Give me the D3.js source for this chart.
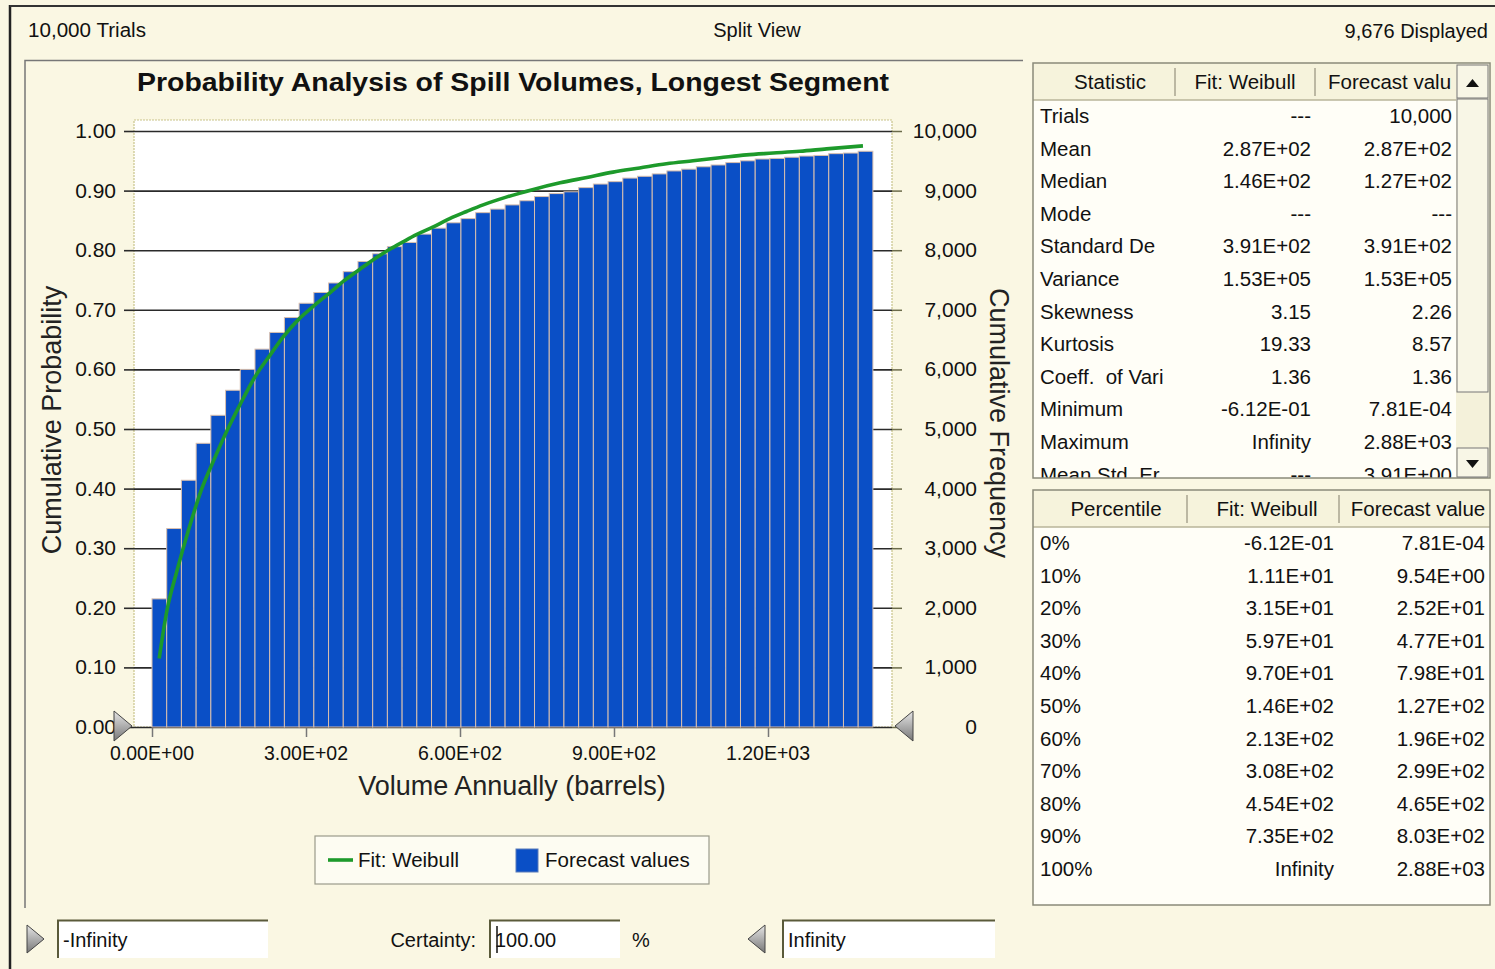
<!DOCTYPE html>
<html>
<head>
<meta charset="utf-8">
<script src="https://cdn.jsdelivr.net/npm/d3@7"></script>
<style>
  body { margin: 0; background: #faf7e3; }
  svg { display: block; font-family: "Liberation Sans", Arial, sans-serif; }
  .tick-label { font-size: 21px; fill: #111; }
  .x-label { font-size: 19.5px; fill: #111; }
  .axis-title { font-size: 27px; fill: #222; }
  .tbl { font-size: 20.5px; fill: #111; }
</style>
</head>
<body>
<div id="chart"></div>
<script>
// Cumulative frequency chart (Crystal Ball style split view)

// bins of the forecast histogram, width in barrels
const binWidth = 28.66;
// cumulative probability at the top of each bin (49 bins)
const cumProb = [
  0.215, 0.333, 0.414, 0.476, 0.523, 0.565, 0.600, 0.634, 0.662, 0.687,
  0.711, 0.729, 0.745, 0.764, 0.781, 0.794, 0.806, 0.813, 0.827, 0.837,
  0.846, 0.853, 0.863, 0.869, 0.876, 0.883, 0.890, 0.895, 0.898, 0.905,
  0.911, 0.915, 0.921, 0.924, 0.928, 0.933, 0.936, 0.940, 0.943, 0.947,
  0.950, 0.953, 0.954, 0.956, 0.958, 0.959, 0.962, 0.963, 0.966
];

// Weibull fit curve
const fitVolume = [14, 29, 48, 71, 97, 119, 146, 171, 201, 230, 256, 288, 317, 347, 373,
  405, 431, 464, 489, 515, 548, 580, 613, 645, 690, 743, 795, 847, 898, 950, 1002, 1054,
  1106, 1158, 1210, 1262, 1314, 1385];
const fitProb = [0.115, 0.195, 0.260, 0.330, 0.400, 0.445, 0.497, 0.540, 0.588, 0.624,
  0.655, 0.686, 0.708, 0.729, 0.748, 0.768, 0.784, 0.802, 0.814, 0.826, 0.839, 0.853,
  0.865, 0.876, 0.889, 0.902, 0.913, 0.922, 0.931, 0.938, 0.945, 0.950, 0.955, 0.960,
  0.963, 0.966, 0.970, 0.975];

const xTicks = [0, 300, 600, 900, 1200];
const probTicks = d3.range(0, 1.0001, 0.1);
const freqTicks = d3.range(0, 10001, 1000);

// statistics table
const statNames = ["Trials", "Mean", "Median", "Mode", "Standard De", "Variance", "Skewness",
  "Kurtosis", "Coeff.  of Vari", "Minimum", "Maximum", "Mean Std. Er"];
const statFit = ["---", "2.87E+02", "1.46E+02", "---", "3.91E+02", "1.53E+05", "3.15",
  "19.33", "1.36", "-6.12E-01", "Infinity", "---"];
const statForecast = ["10,000", "2.87E+02", "1.27E+02", "---", "3.91E+02", "1.53E+05", "2.26",
  "8.57", "1.36", "7.81E-04", "2.88E+03", "3.91E+00"];

// percentile table
const pctNames = ["0%", "10%", "20%", "30%", "40%", "50%", "60%", "70%", "80%", "90%", "100%"];
const pctFit = ["-6.12E-01", "1.11E+01", "3.15E+01", "5.97E+01", "9.70E+01", "1.46E+02",
  "2.13E+02", "3.08E+02", "4.54E+02", "7.35E+02", "Infinity"];
const pctForecast = ["7.81E-04", "9.54E+00", "2.52E+01", "4.77E+01", "7.98E+01", "1.27E+02",
  "1.96E+02", "2.99E+02", "4.65E+02", "8.03E+02", "2.88E+03"];

const width = 1495;
const height = 969;

const plot = { left: 134, right: 892, top: 120, bottom: 727 };

const svg = d3.select("#chart")
  .append("svg")
  .attr("width", width)
  .attr("height", height);

svg.append("rect")
  .attr("width", width)
  .attr("height", height)
  .attr("fill", "#faf7e3");

// window frame
svg.append("line").attr("x1", 10).attr("x2", 10).attr("y1", 5).attr("y2", height)
  .attr("stroke", "#222").attr("stroke-width", 2.5);
svg.append("line").attr("x1", 10).attr("x2", width).attr("y1", 6).attr("y2", 6)
  .attr("stroke", "#333").attr("stroke-width", 2);

// header texts
svg.append("text").attr("x", 28).attr("y", 37).attr("font-size", 20).attr("fill", "#111")
  .attr("textLength", 118).attr("lengthAdjust", "spacingAndGlyphs")
  .text("10,000 Trials");
svg.append("text").attr("x", 757).attr("y", 37).attr("font-size", 20).attr("fill", "#111")
  .attr("text-anchor", "middle")
  .text("Split View");
svg.append("text").attr("x", 1488).attr("y", 38).attr("font-size", 20).attr("fill", "#111")
  .attr("text-anchor", "end")
  .text("9,676 Displayed");

// chart panel border
svg.append("path")
  .attr("d", "M25,908 L25,60.5 L1023,60.5")
  .attr("fill", "none")
  .attr("stroke", "#777")
  .attr("stroke-width", 1.5);

// title
svg.append("text")
  .attr("x", 137).attr("y", 91)
  .attr("font-size", 26).attr("font-weight", "bold").attr("fill", "#111")
  .attr("textLength", 752).attr("lengthAdjust", "spacingAndGlyphs")
  .text("Probability Analysis of Spill Volumes, Longest Segment");

// scales
const xScale = d3.scaleLinear().domain([0, 1200]).range([152, 768]);
const yScale = d3.scaleLinear().domain([0, 1]).range([727, 131]);
const yFreq = d3.scaleLinear().domain([0, 10000]).range([727, 131]);

// plot background
svg.append("rect")
  .attr("x", plot.left).attr("y", plot.top)
  .attr("width", plot.right - plot.left).attr("height", plot.bottom - plot.top)
  .attr("fill", "#ffffff")
  .attr("stroke", "#c9c48a")
  .attr("stroke-width", 1.2)
  .attr("stroke-dasharray", "2,1");

// grid lines + left ticks
const leftAxis = d3.axisLeft(yScale)
  .tickValues(probTicks)
  .tickSize(-(plot.right - plot.left))
  .tickFormat("");
svg.append("g")
  .attr("transform", `translate(${plot.left},0)`)
  .call(leftAxis)
  .call(g => g.select(".domain").remove())
  .call(g => g.selectAll(".tick line").attr("stroke", "#2a2a2a").attr("stroke-width", 1.6));

svg.append("g")
  .attr("transform", `translate(${plot.left},0)`)
  .call(d3.axisLeft(yScale).tickValues(probTicks).tickSize(10).tickFormat(""))
  .call(g => g.select(".domain").remove())
  .call(g => g.selectAll(".tick line").attr("stroke", "#2a2a2a").attr("stroke-width", 1.6));

svg.append("g")
  .selectAll("text")
  .data(probTicks)
  .enter()
  .append("text")
  .attr("class", "tick-label")
  .attr("x", 116)
  .attr("y", d => yScale(d) + 7)
  .attr("text-anchor", "end")
  .text(d3.format(".2f"));

// right axis
svg.append("g")
  .attr("transform", `translate(${plot.right},0)`)
  .call(d3.axisRight(yFreq).tickValues(freqTicks).tickSize(10).tickFormat(""))
  .call(g => g.select(".domain").remove())
  .call(g => g.selectAll(".tick line").attr("stroke", "#6b6b4a").attr("stroke-width", 1.5));

svg.append("g")
  .selectAll("text")
  .data(freqTicks)
  .enter()
  .append("text")
  .attr("class", "tick-label")
  .attr("x", 977)
  .attr("y", d => yFreq(d) + 7)
  .attr("text-anchor", "end")
  .text(d3.format(",d"));

// bars
svg.append("g")
  .selectAll("rect")
  .data(cumProb)
  .enter()
  .append("rect")
  .attr("x", (d, i) => xScale(i * binWidth))
  .attr("y", d => yScale(d))
  .attr("width", (d, i) => xScale((i + 1) * binWidth) - xScale(i * binWidth))
  .attr("height", d => yScale(0) - yScale(d))
  .attr("fill", "#0a4fc6")
  .attr("stroke", "#d9bfae")
  .attr("stroke-width", 1);

// fit line
const fitData = fitVolume.map((v, i) => ({ v: v, p: fitProb[i] }));
const line = d3.line()
  .x(d => xScale(d.v))
  .y(d => yScale(d.p))
  .curve(d3.curveMonotoneX);

svg.append("path")
  .datum(fitData)
  .attr("d", line)
  .attr("fill", "none")
  .attr("stroke", "#1d9a2b")
  .attr("stroke-width", 3.6);

// x axis
svg.append("g")
  .attr("transform", `translate(0,${plot.bottom + 1})`)
  .call(d3.axisBottom(xScale).tickValues(xTicks).tickSize(9).tickFormat(""))
  .call(g => g.select(".domain").remove())
  .call(g => g.selectAll(".tick line").attr("stroke", "#777").attr("stroke-width", 1.5));

const sci = v => {
  const [m, e] = v.toExponential(2).split("e");
  const n = Math.abs(+e);
  return m + "E" + (+e < 0 ? "-" : "+") + (n < 10 ? "0" + n : n);
};

svg.append("g")
  .selectAll("text")
  .data(xTicks)
  .enter()
  .append("text")
  .attr("class", "x-label")
  .attr("x", d => xScale(d))
  .attr("y", 760)
  .attr("text-anchor", "middle")
  .text(sci);

// axis titles
svg.append("text")
  .attr("class", "axis-title")
  .attr("x", 512).attr("y", 795)
  .attr("text-anchor", "middle")
  .text("Volume Annually (barrels)");

svg.append("text")
  .attr("class", "axis-title")
  .attr("transform", "translate(61,420) rotate(-90)")
  .attr("text-anchor", "middle")
  .text("Cumulative Probability");

svg.append("text")
  .attr("class", "axis-title")
  .attr("transform", "translate(990,423) rotate(90)")
  .attr("text-anchor", "middle")
  .text("Cumulative Frequency");

// grab handles
const grad = svg.append("defs").append("linearGradient")
  .attr("id", "handle").attr("x1", 0).attr("y1", 0).attr("x2", 0).attr("y2", 1);
grad.append("stop").attr("offset", "0%").attr("stop-color", "#e6e6e6");
grad.append("stop").attr("offset", "100%").attr("stop-color", "#777");

svg.append("path")
  .attr("d", "M114,711 L132,726 L114,741 Z")
  .attr("fill", "url(#handle)").attr("stroke", "#444").attr("stroke-width", 1);
svg.append("path")
  .attr("d", "M913,711 L895,726 L913,741 Z")
  .attr("fill", "url(#handle)").attr("stroke", "#444").attr("stroke-width", 1);

// legend
svg.append("rect")
  .attr("x", 315).attr("y", 836).attr("width", 394).attr("height", 48)
  .attr("fill", "#fdfcf2").attr("stroke", "#9a9a8a").attr("stroke-width", 1.2);
svg.append("line")
  .attr("x1", 328).attr("x2", 353).attr("y1", 860).attr("y2", 860)
  .attr("stroke", "#1d9a2b").attr("stroke-width", 3.6);
svg.append("text")
  .attr("x", 358).attr("y", 867).attr("font-size", 20.5).attr("fill", "#111")
  .text("Fit: Weibull");
svg.append("rect")
  .attr("x", 516).attr("y", 849).attr("width", 22).attr("height", 23)
  .attr("fill", "#0a4fc6").attr("stroke", "#5a7ab8");
svg.append("text")
  .attr("x", 545).attr("y", 867).attr("font-size", 20.5).attr("fill", "#111")
  .text("Forecast values");

// tables
function drawTable(cfg) {
  const g = svg.append("g");
  const clipId = "clip" + cfg.top;
  svg.select("defs").append("clipPath").attr("id", clipId)
    .append("rect").attr("x", cfg.left).attr("y", cfg.top)
    .attr("width", cfg.right - cfg.left).attr("height", cfg.bottom - cfg.top);

  const inner = g.append("g").attr("clip-path", `url(#${clipId})`);
  inner.append("rect")
    .attr("x", cfg.left).attr("y", cfg.top)
    .attr("width", cfg.right - cfg.left).attr("height", cfg.bottom - cfg.top)
    .attr("fill", "#fffef7");
  // header
  inner.append("rect")
    .attr("x", cfg.left).attr("y", cfg.top)
    .attr("width", cfg.headRight - cfg.left).attr("height", cfg.headH)
    .attr("fill", "#f6f3dc");
  inner.append("line")
    .attr("x1", cfg.left).attr("x2", cfg.headRight)
    .attr("y1", cfg.top + cfg.headH).attr("y2", cfg.top + cfg.headH)
    .attr("stroke", "#b8b49a").attr("stroke-width", 1.5);
  cfg.dividers.forEach(x => {
    inner.append("line")
      .attr("x1", x).attr("x2", x)
      .attr("y1", cfg.top + 5).attr("y2", cfg.top + cfg.headH - 4)
      .attr("stroke", "#a8a490").attr("stroke-width", 1.5);
  });
  cfg.headers.forEach((h, i) => {
    inner.append("text")
      .attr("class", "tbl")
      .attr("x", cfg.headX[i]).attr("y", cfg.top + cfg.headH / 2 + 7)
      .attr("text-anchor", cfg.headAnchor[i])
      .text(h);
  });
  // rows
  const rowY = i => cfg.top + cfg.headH + 16 + i * cfg.rowH;
  cfg.names.forEach((n, i) => {
    inner.append("text").attr("class", "tbl")
      .attr("x", cfg.left + 7).attr("y", rowY(i) + 7)
      .attr("xml:space", "preserve")
      .text(n);
    inner.append("text").attr("class", "tbl")
      .attr("x", cfg.col1).attr("y", rowY(i) + 7)
      .attr("text-anchor", "end")
      .text(cfg.fit[i]);
    inner.append("text").attr("class", "tbl")
      .attr("x", cfg.col2).attr("y", rowY(i) + 7)
      .attr("text-anchor", "end")
      .text(cfg.forecast[i]);
  });
  g.append("rect")
    .attr("x", cfg.left).attr("y", cfg.top)
    .attr("width", cfg.right - cfg.left).attr("height", cfg.bottom - cfg.top)
    .attr("fill", "none").attr("stroke", "#8a8a7a").attr("stroke-width", 1.5);
  return g;
}

const statTbl = drawTable({
  left: 1033, right: 1490, top: 63, bottom: 478, headRight: 1456, headH: 37, rowH: 32.6,
  dividers: [1175, 1315],
  headers: ["Statistic", "Fit: Weibull", "Forecast valu"],
  headX: [1110, 1245, 1328], headAnchor: ["middle", "middle", "start"],
  names: statNames, fit: statFit, forecast: statForecast,
  col1: 1311, col2: 1452
});

// scrollbar of the statistics table
statTbl.append("rect")
  .attr("x", 1456).attr("y", 64).attr("width", 33).attr("height", 413)
  .attr("fill", "#f4f1da");
statTbl.append("rect")
  .attr("x", 1457).attr("y", 65).attr("width", 31).attr("height", 33)
  .attr("fill", "#f8f6e6").attr("stroke", "#777").attr("stroke-width", 1);
statTbl.append("path").attr("d", "M1466,87 L1479,87 L1472.5,79 Z").attr("fill", "#111");
statTbl.append("rect")
  .attr("x", 1457).attr("y", 99).attr("width", 31).attr("height", 293)
  .attr("fill", "#f8f6e6").attr("stroke", "#777").attr("stroke-width", 1);
statTbl.append("rect")
  .attr("x", 1457).attr("y", 448).attr("width", 31).attr("height", 29)
  .attr("fill", "#f8f6e6").attr("stroke", "#777").attr("stroke-width", 1);
statTbl.append("path").attr("d", "M1466,460 L1479,460 L1472.5,468 Z").attr("fill", "#111");

drawTable({
  left: 1033, right: 1490, top: 490, bottom: 905, headRight: 1490, headH: 37, rowH: 32.6,
  dividers: [1187, 1339],
  headers: ["Percentile", "Fit: Weibull", "Forecast value"],
  headX: [1116, 1267, 1418], headAnchor: ["middle", "middle", "middle"],
  names: pctNames, fit: pctFit, forecast: pctForecast,
  col1: 1334, col2: 1485
});

// bottom controls
function inputBox(x, w, txt) {
  svg.append("rect")
    .attr("x", x).attr("y", 920).attr("width", w).attr("height", 38)
    .attr("fill", "#ffffff");
  svg.append("path")
    .attr("d", `M${x},958 L${x},920.5 L${x + w},920.5`)
    .attr("fill", "none").attr("stroke", "#5a5a3a").attr("stroke-width", 2);
  svg.append("text")
    .attr("x", x + 5).attr("y", 947)
    .attr("font-size", 20).attr("fill", "#111")
    .text(txt);
}

svg.append("path")
  .attr("d", "M27,925 L44,939 L27,953 Z")
  .attr("fill", "url(#handle)").attr("stroke", "#444").attr("stroke-width", 1);
inputBox(58, 210, "-Infinity");

svg.append("text")
  .attr("x", 476).attr("y", 947).attr("text-anchor", "end")
  .attr("font-size", 20).attr("fill", "#111")
  .text("Certainty:");
inputBox(490, 130, "100.00");
svg.append("line")
  .attr("x1", 497).attr("x2", 497).attr("y1", 926).attr("y2", 953)
  .attr("stroke", "#111").attr("stroke-width", 1.5);
svg.append("text")
  .attr("x", 632).attr("y", 947)
  .attr("font-size", 20).attr("fill", "#111")
  .text("%");

svg.append("path")
  .attr("d", "M765,925 L748,939 L765,953 Z")
  .attr("fill", "url(#handle)").attr("stroke", "#444").attr("stroke-width", 1);
inputBox(783, 212, "Infinity");
</script>
</body>
</html>
